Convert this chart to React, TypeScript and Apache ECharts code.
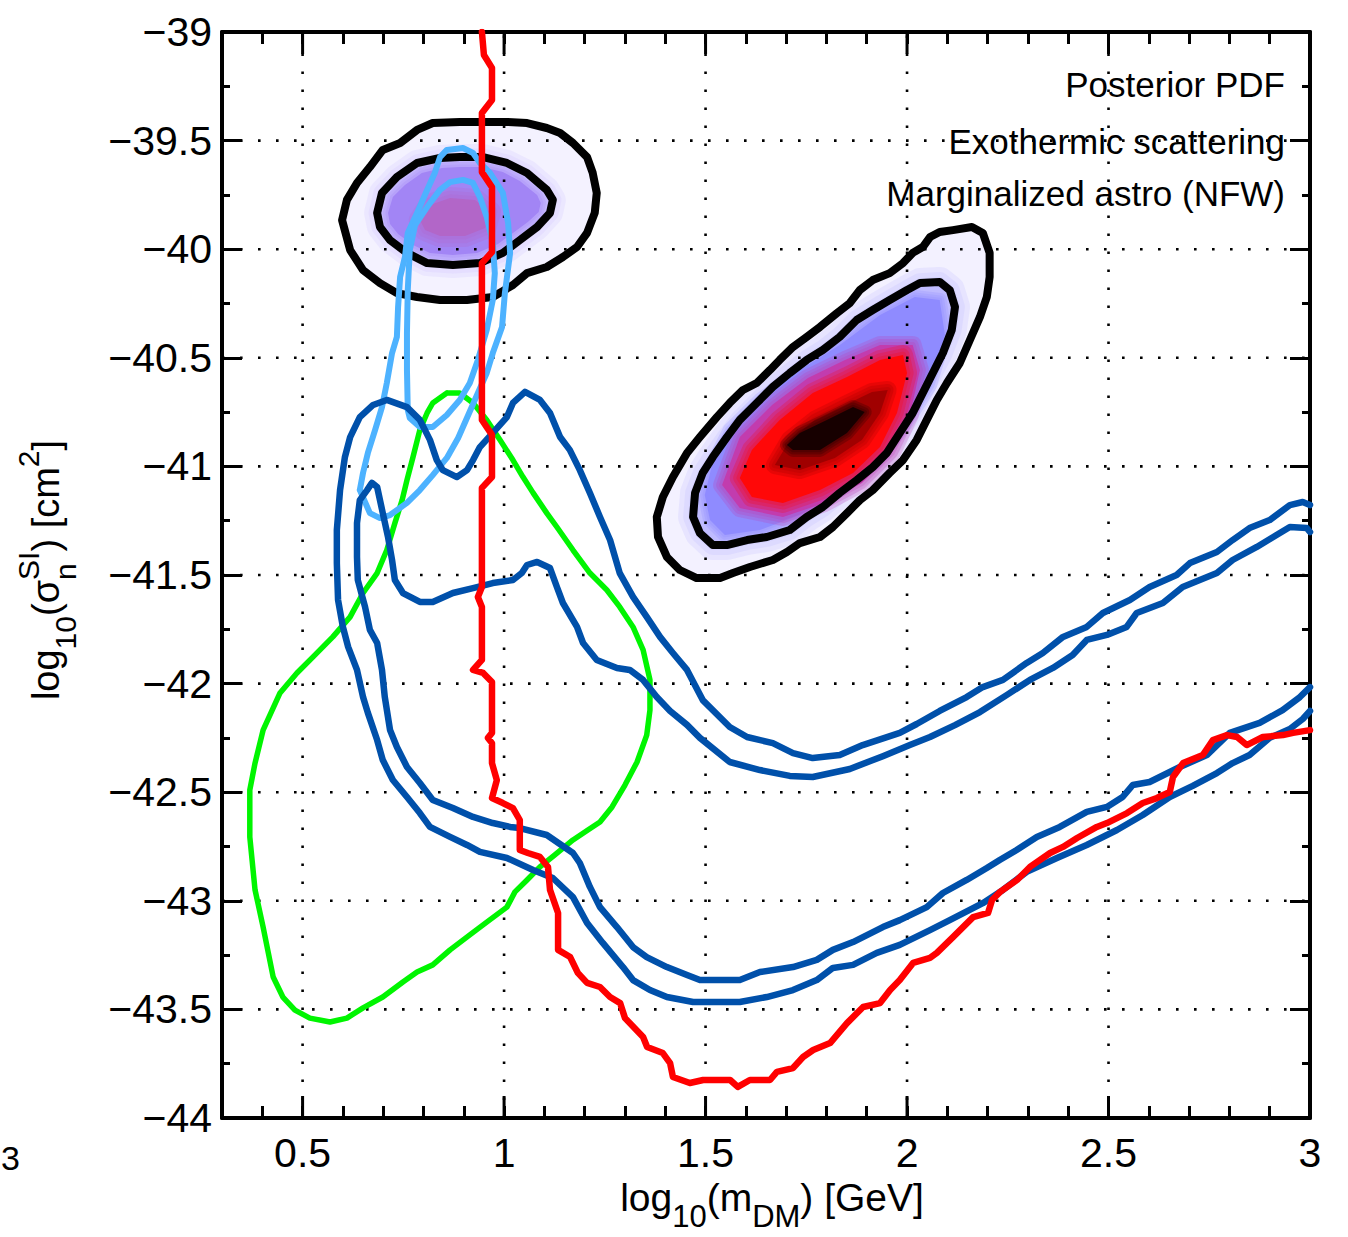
import { useEffect, useRef } from 'react';
import * as echarts from 'echarts';

const FONT = '"Liberation Sans", Arial, Helvetica, sans-serif';

const X_MIN = 0.3;
const X_MAX = 3;
const Y_MIN = -44;
const Y_MAX = -39;
const X_LABEL_VALUES = [0.5, 1, 1.5, 2, 2.5, 3];
const GRID_X = [0.5, 1, 1.5, 2, 2.5];
const GRID_Y = [-39.5, -40, -40.5, -41, -41.5, -42, -42.5, -43, -43.5];
const ANNOTATIONS = ['Posterior PDF', 'Exothermic scattering', 'Marginalized astro (NFW)'];

// Red exclusion limit
const RED_LIMIT = [
  [0.945, -39.0], [0.95, -39.106], [0.97, -39.166], [0.97, -39.313], [0.945, -39.373], [0.945, -39.645],
  [0.97, -39.714], [0.97, -40.013], [0.945, -40.064], [0.945, -40.786], [0.97, -40.855], [0.97, -41.049],
  [0.945, -41.099], [0.945, -41.555], [0.935, -41.601], [0.945, -41.647], [0.945, -41.891], [0.923, -41.937],
  [0.948, -41.951], [0.97, -41.993], [0.97, -42.227], [0.96, -42.25], [0.97, -42.274], [0.97, -42.366],
  [0.982, -42.444], [0.97, -42.527], [0.997, -42.55], [1.022, -42.573], [1.039, -42.628], [1.039, -42.766],
  [1.059, -42.78], [1.089, -42.798], [1.109, -42.844], [1.114, -42.95], [1.134, -43.056], [1.134, -43.226],
  [1.164, -43.259], [1.183, -43.332], [1.206, -43.378], [1.238, -43.397], [1.263, -43.443], [1.288, -43.471],
  [1.3, -43.54], [1.345, -43.627], [1.355, -43.673], [1.394, -43.701], [1.412, -43.747], [1.419, -43.811],
  [1.461, -43.839], [1.494, -43.825], [1.561, -43.825], [1.58, -43.857], [1.61, -43.825], [1.66, -43.825],
  [1.677, -43.788], [1.717, -43.77], [1.742, -43.719], [1.767, -43.687], [1.809, -43.655], [1.851, -43.563],
  [1.891, -43.489], [1.933, -43.471], [1.958, -43.411], [1.982, -43.365], [2.015, -43.286], [2.057, -43.263],
  [2.074, -43.24], [2.114, -43.167], [2.164, -43.075], [2.201, -43.056], [2.211, -42.996], [2.231, -42.959],
  [2.273, -42.904], [2.305, -42.844], [2.355, -42.78], [2.387, -42.752], [2.422, -42.711], [2.471, -42.66],
  [2.496, -42.642], [2.546, -42.596], [2.585, -42.55], [2.62, -42.527], [2.652, -42.499], [2.66, -42.43],
  [2.685, -42.366], [2.734, -42.329], [2.759, -42.26], [2.794, -42.237], [2.819, -42.246], [2.843, -42.283],
  [2.883, -42.246], [2.933, -42.237], [2.958, -42.227], [3.0, -42.214],
];

// Dark blue, outer contour (open at the right edge)
const BLUE_OUTER = [
  [3.0, -41.178], [2.982, -41.164], [2.95, -41.178], [2.9, -41.247], [2.85, -41.284], [2.808, -41.339],
  [2.769, -41.394], [2.702, -41.445], [2.669, -41.5], [2.602, -41.555], [2.553, -41.615], [2.486, -41.675],
  [2.446, -41.739], [2.387, -41.785], [2.337, -41.859], [2.297, -41.905], [2.238, -41.983], [2.188, -42.016],
  [2.148, -42.062], [2.081, -42.126], [2.024, -42.186], [1.982, -42.227], [1.89, -42.283], [1.833, -42.329],
  [1.766, -42.343], [1.717, -42.32], [1.667, -42.274], [1.603, -42.246], [1.56, -42.2], [1.493, -42.076],
  [1.454, -41.937], [1.419, -41.859], [1.387, -41.785], [1.354, -41.693], [1.32, -41.601], [1.287, -41.491],
  [1.263, -41.339], [1.238, -41.233], [1.213, -41.122], [1.188, -41.017], [1.163, -40.924], [1.139, -40.865],
  [1.114, -40.754], [1.089, -40.694], [1.052, -40.657], [1.022, -40.708], [1.007, -40.773], [0.972, -40.846],
  [0.94, -40.911], [0.923, -40.971], [0.908, -41.017], [0.883, -41.049], [0.848, -41.017], [0.833, -40.971],
  [0.816, -40.878], [0.791, -40.786], [0.759, -40.727], [0.709, -40.694], [0.675, -40.717], [0.642, -40.773],
  [0.618, -40.865], [0.605, -40.957], [0.593, -41.109], [0.585, -41.293], [0.585, -41.445], [0.588, -41.615],
  [0.6, -41.739], [0.613, -41.831], [0.635, -41.937], [0.65, -42.062], [0.662, -42.135], [0.685, -42.26],
  [0.699, -42.352], [0.724, -42.444], [0.759, -42.522], [0.791, -42.596], [0.816, -42.66], [0.866, -42.706],
  [0.908, -42.743], [0.94, -42.775], [1.007, -42.803], [1.072, -42.858], [1.121, -42.895], [1.171, -42.983],
  [1.206, -43.102], [1.245, -43.194], [1.295, -43.305], [1.32, -43.365], [1.362, -43.411], [1.404, -43.443],
  [1.469, -43.466], [1.585, -43.466], [1.652, -43.443], [1.717, -43.411], [1.776, -43.365], [1.816, -43.309],
  [1.866, -43.295], [1.925, -43.24], [1.982, -43.203], [2.057, -43.135], [2.106, -43.089], [2.188, -43.011],
  [2.238, -42.95], [2.297, -42.867], [2.372, -42.803], [2.446, -42.743], [2.521, -42.674], [2.585, -42.605],
  [2.652, -42.522], [2.709, -42.471], [2.769, -42.412], [2.808, -42.366], [2.85, -42.329], [2.9, -42.25],
  [2.95, -42.209], [2.982, -42.163], [3.0, -42.126],
];

// Dark blue, inner contour (open at the right edge)
const BLUE_INNER = [
  [3.0, -41.302], [2.992, -41.284], [2.95, -41.279], [2.917, -41.316], [2.868, -41.371], [2.808, -41.431],
  [2.769, -41.491], [2.684, -41.555], [2.635, -41.629], [2.57, -41.675], [2.545, -41.739], [2.496, -41.776],
  [2.446, -41.799], [2.411, -41.868], [2.362, -41.928], [2.305, -41.983], [2.248, -42.052], [2.181, -42.131],
  [2.119, -42.191], [2.057, -42.246], [2.007, -42.283], [1.94, -42.334], [1.858, -42.393], [1.766, -42.43],
  [1.709, -42.425], [1.635, -42.398], [1.56, -42.361], [1.486, -42.25], [1.454, -42.19], [1.412, -42.126],
  [1.379, -42.062], [1.345, -41.983], [1.312, -41.937], [1.28, -41.928], [1.23, -41.891], [1.196, -41.813],
  [1.181, -41.739], [1.146, -41.629], [1.131, -41.555], [1.114, -41.468], [1.082, -41.44], [1.057, -41.454],
  [1.044, -41.491], [1.022, -41.523], [0.972, -41.537], [0.923, -41.56], [0.873, -41.583], [0.823, -41.624],
  [0.791, -41.624], [0.749, -41.583], [0.729, -41.523], [0.722, -41.431], [0.712, -41.325], [0.699, -41.215],
  [0.685, -41.095], [0.672, -41.076], [0.66, -41.109], [0.642, -41.155], [0.635, -41.261], [0.635, -41.417],
  [0.637, -41.523], [0.655, -41.647], [0.667, -41.753], [0.685, -41.813], [0.697, -41.937], [0.704, -42.062],
  [0.717, -42.214], [0.734, -42.292], [0.759, -42.384], [0.791, -42.458], [0.823, -42.536], [0.873, -42.573],
  [0.923, -42.614], [0.972, -42.642], [1.015, -42.66], [1.039, -42.665], [1.106, -42.697], [1.171, -42.78],
  [1.188, -42.826], [1.213, -42.936], [1.238, -43.029], [1.28, -43.121], [1.32, -43.213], [1.354, -43.259],
  [1.404, -43.305], [1.454, -43.342], [1.486, -43.365], [1.585, -43.365], [1.635, -43.328], [1.717, -43.305],
  [1.776, -43.272], [1.816, -43.226], [1.866, -43.19], [1.94, -43.121], [1.982, -43.089], [2.049, -43.029],
  [2.089, -42.964], [2.148, -42.904], [2.198, -42.849], [2.23, -42.812], [2.272, -42.766], [2.322, -42.706],
  [2.379, -42.66], [2.446, -42.591], [2.496, -42.568], [2.535, -42.522], [2.56, -42.467], [2.602, -42.453],
  [2.677, -42.384], [2.744, -42.329], [2.801, -42.227], [2.875, -42.181], [2.932, -42.122], [2.975, -42.062],
  [3.0, -42.016],
];

// Light blue contours (closed)
const LIGHTBLUE_OUTER = [
  [0.642, -41.109], [0.667, -41.215], [0.692, -41.238], [0.717, -41.224], [0.759, -41.168], [0.791, -41.109],
  [0.823, -41.04], [0.858, -40.961], [0.886, -40.869], [0.91, -40.768], [0.935, -40.662], [0.957, -40.57],
  [0.972, -40.478], [0.995, -40.358], [1.002, -40.202], [1.015, -40.017], [1.01, -39.879], [0.997, -39.741],
  [0.965, -39.649], [0.94, -39.603], [0.923, -39.557], [0.898, -39.534], [0.858, -39.543], [0.841, -39.576],
  [0.828, -39.649], [0.809, -39.727], [0.784, -39.833], [0.761, -39.925], [0.754, -40.036], [0.742, -40.128],
  [0.737, -40.266], [0.734, -40.404], [0.722, -40.478], [0.709, -40.616], [0.697, -40.727], [0.68, -40.832],
  [0.662, -40.938], [0.65, -41.03],
];
const LIGHTBLUE_INNER = [
  [0.761, -40.74], [0.759, -40.556], [0.759, -40.386], [0.761, -40.188], [0.766, -40.004], [0.779, -39.889],
  [0.809, -39.806], [0.841, -39.727], [0.866, -39.691], [0.898, -39.681], [0.923, -39.695], [0.94, -39.76],
  [0.957, -39.852], [0.972, -39.971], [0.977, -40.11], [0.972, -40.234], [0.957, -40.372], [0.935, -40.51],
  [0.915, -40.616], [0.89, -40.694], [0.858, -40.763], [0.823, -40.819], [0.791, -40.819], [0.766, -40.777],
];

// Green contour (closed)
const GREEN = [
  [0.858, -40.662], [0.89, -40.662], [0.923, -40.708], [0.957, -40.786], [0.99, -40.878], [1.022, -40.971],
  [1.047, -41.049], [1.072, -41.122], [1.106, -41.215], [1.131, -41.279], [1.171, -41.385], [1.213, -41.491],
  [1.255, -41.569], [1.287, -41.647], [1.32, -41.739], [1.345, -41.845], [1.362, -41.983], [1.362, -42.122],
  [1.354, -42.237], [1.33, -42.361], [1.3, -42.467], [1.268, -42.568], [1.238, -42.637], [1.208, -42.674],
  [1.171, -42.72], [1.126, -42.789], [1.089, -42.844], [1.057, -42.904], [1.027, -42.959], [1.007, -43.029],
  [0.957, -43.098], [0.915, -43.157], [0.866, -43.226], [0.823, -43.295], [0.784, -43.328], [0.749, -43.374],
  [0.699, -43.443], [0.65, -43.493], [0.61, -43.54], [0.568, -43.558], [0.518, -43.54], [0.481, -43.503],
  [0.451, -43.443], [0.427, -43.351], [0.402, -43.121], [0.382, -42.95], [0.369, -42.706], [0.369, -42.49],
  [0.382, -42.366], [0.402, -42.214], [0.444, -42.043], [0.486, -41.951], [0.526, -41.877], [0.575, -41.785],
  [0.618, -41.693], [0.65, -41.583], [0.685, -41.491], [0.709, -41.385], [0.729, -41.261], [0.747, -41.155],
  [0.759, -41.063], [0.774, -40.957], [0.791, -40.832], [0.809, -40.754], [0.823, -40.708],
];

// Posterior PDF, right blob: contours and density levels
const RIGHT_PDF_OUTER = [
  [2.161, -39.898], [2.188, -39.925], [2.205, -40.017], [2.205, -40.128], [2.198, -40.22], [2.181, -40.312],
  [2.156, -40.418], [2.131, -40.524], [2.099, -40.616], [2.074, -40.694], [2.049, -40.786], [2.024, -40.878],
  [1.99, -40.971], [1.957, -41.03], [1.915, -41.109], [1.883, -41.155], [1.851, -41.215], [1.816, -41.279],
  [1.784, -41.325], [1.734, -41.353], [1.702, -41.394], [1.667, -41.431], [1.61, -41.463], [1.568, -41.491],
  [1.536, -41.514], [1.478, -41.514], [1.436, -41.477], [1.404, -41.417], [1.382, -41.325], [1.379, -41.233],
  [1.394, -41.141], [1.419, -41.049], [1.454, -40.938], [1.486, -40.865], [1.528, -40.773], [1.56, -40.708],
  [1.593, -40.648], [1.627, -40.616], [1.66, -40.556], [1.684, -40.51], [1.717, -40.45], [1.751, -40.404],
  [1.784, -40.358], [1.826, -40.294], [1.858, -40.248], [1.883, -40.188], [1.915, -40.142], [1.957, -40.11],
  [1.99, -40.064], [2.014, -40.017], [2.039, -39.99], [2.057, -39.944], [2.081, -39.921], [2.114, -39.912],
];
const RIGHT_PDF_INNER = [
  [2.081, -40.151], [2.106, -40.188], [2.119, -40.266], [2.111, -40.372], [2.089, -40.478], [2.064, -40.57],
  [2.039, -40.662], [2.014, -40.754], [1.982, -40.846], [1.95, -40.938], [1.915, -41.003], [1.875, -41.063],
  [1.833, -41.122], [1.791, -41.187], [1.751, -41.233], [1.709, -41.293], [1.652, -41.325], [1.603, -41.339],
  [1.553, -41.362], [1.518, -41.362], [1.486, -41.307], [1.469, -41.233], [1.474, -41.122], [1.493, -41.03],
  [1.518, -40.957], [1.553, -40.865], [1.585, -40.786], [1.627, -40.708], [1.667, -40.634], [1.709, -40.57],
  [1.751, -40.51], [1.791, -40.464], [1.833, -40.404], [1.875, -40.326], [1.915, -40.28], [1.957, -40.234],
  [2.0, -40.188], [2.032, -40.156],
];
const RIGHT_PDF_MID = [
  [1.511, -41.247], [1.548, -41.316], [1.635, -41.293], [1.734, -41.224], [1.833, -41.109], [1.92, -40.98],
  [1.995, -40.809], [2.057, -40.625], [2.094, -40.395], [2.081, -40.234], [2.019, -40.22], [1.933, -40.303],
  [1.833, -40.441], [1.734, -40.556], [1.635, -40.694], [1.56, -40.832], [1.516, -40.994], [1.498, -41.132],
];
const RIGHT_PDF_PURPLE = [
  [1.541, -41.086], [1.585, -41.192], [1.692, -41.233], [1.796, -41.168], [1.888, -41.076], [1.962, -40.938],
  [2.007, -40.763], [2.032, -40.556], [2.014, -40.441], [1.933, -40.441], [1.846, -40.51], [1.754, -40.593],
  [1.665, -40.717], [1.585, -40.865],
];
const RIGHT_PDF_RED = [
  [1.585, -41.053], [1.615, -41.141], [1.692, -41.168], [1.784, -41.109], [1.866, -41.03], [1.933, -40.911],
  [1.975, -40.754], [2.0, -40.57], [1.99, -40.487], [1.933, -40.51], [1.851, -40.588], [1.766, -40.662],
  [1.684, -40.786], [1.615, -40.924],
];
const RIGHT_PDF_DARK = [
  [1.672, -40.994], [1.734, -41.017], [1.821, -40.961], [1.888, -40.878], [1.933, -40.754], [1.952, -40.648],
  [1.913, -40.657], [1.846, -40.717], [1.771, -40.786], [1.709, -40.878],
];
const RIGHT_PDF_CORE = [
  [1.717, -40.924], [1.784, -40.924], [1.851, -40.846], [1.895, -40.75], [1.866, -40.727], [1.801, -40.786],
  [1.734, -40.846], [1.702, -40.901],
];

// Posterior PDF, left blob
const LEFT_PDF_OUTER = [
  [0.598, -39.866], [0.61, -39.773], [0.635, -39.695], [0.667, -39.622], [0.699, -39.543], [0.742, -39.511],
  [0.784, -39.451], [0.823, -39.419], [0.89, -39.414], [0.957, -39.414], [1.007, -39.414], [1.057, -39.419],
  [1.106, -39.442], [1.139, -39.465], [1.171, -39.511], [1.206, -39.576], [1.22, -39.649], [1.23, -39.741],
  [1.225, -39.833], [1.206, -39.925], [1.181, -39.99], [1.146, -40.036], [1.106, -40.082], [1.057, -40.11],
  [1.022, -40.165], [0.972, -40.22], [0.908, -40.234], [0.841, -40.234], [0.784, -40.22], [0.734, -40.202],
  [0.692, -40.156], [0.65, -40.096], [0.618, -40.004],
];
const LEFT_PDF_INNER = [
  [0.685, -39.833], [0.697, -39.741], [0.734, -39.668], [0.784, -39.603], [0.841, -39.58], [0.89, -39.576],
  [0.948, -39.576], [1.007, -39.603], [1.057, -39.649], [1.106, -39.727], [1.121, -39.773], [1.114, -39.833],
  [1.082, -39.898], [1.039, -39.958], [0.997, -40.017], [0.94, -40.064], [0.873, -40.073], [0.809, -40.064],
  [0.759, -40.017], [0.717, -39.958], [0.692, -39.898],
];
const LEFT_PDF_MID = [
  [0.712, -39.833], [0.724, -39.76], [0.754, -39.704], [0.796, -39.649], [0.846, -39.626], [0.89, -39.622],
  [0.945, -39.622], [0.997, -39.645], [1.039, -39.686], [1.082, -39.75], [1.091, -39.787], [1.086, -39.829],
  [1.059, -39.875], [1.022, -39.925], [0.985, -39.976], [0.933, -40.017], [0.873, -40.027], [0.816, -40.017],
  [0.774, -39.981], [0.737, -39.93], [0.717, -39.884],
];
const LEFT_PDF_CORE = [
  [0.791, -39.866], [0.816, -39.796], [0.866, -39.764], [0.928, -39.773], [0.965, -39.829], [0.953, -39.902],
  [0.903, -39.939], [0.841, -39.939], [0.804, -39.912],
];

const close = (a: number[][]) => [...a, a[0]];

type Level = { pts: number[][]; fill?: string; halo?: number; stroke?: string };

const RIGHT_LEVELS: Level[] = [
  { pts: RIGHT_PDF_OUTER, fill: '#f3f1ff' },
  { pts: RIGHT_PDF_INNER, fill: '#bfbbff', halo: 30 },
  { pts: RIGHT_PDF_MID, fill: '#8f8bff', halo: 14 },
  { pts: RIGHT_PDF_PURPLE, fill: '#c23cae', halo: 18 },
  { pts: RIGHT_PDF_RED, fill: '#ff0808', halo: 20 },
  { pts: RIGHT_PDF_DARK, fill: '#a00000', halo: 18 },
  { pts: RIGHT_PDF_CORE, fill: '#170000', halo: 14 },
  { pts: RIGHT_PDF_OUTER, stroke: '#000000' },
  { pts: RIGHT_PDF_INNER, stroke: '#000000' },
];
const LEFT_LEVELS: Level[] = [
  { pts: LEFT_PDF_OUTER, fill: '#f4f2ff' },
  { pts: LEFT_PDF_INNER, fill: '#cfc5ff', halo: 26 },
  { pts: LEFT_PDF_MID, fill: '#a285f5', halo: 16 },
  { pts: LEFT_PDF_CORE, fill: '#b266c8', halo: 22 },
  { pts: LEFT_PDF_OUTER, stroke: '#000000' },
  { pts: LEFT_PDF_INNER, stroke: '#000000' },
];

type Frag = { t: string; s: number; dy: number; hold?: boolean };
const X_TITLE: Frag[] = [
  { t: 'log', s: 39, dy: 0 }, { t: '10', s: 31, dy: 19 }, { t: '(m', s: 39, dy: 0 },
  { t: 'DM', s: 31, dy: 19 }, { t: ') [GeV]', s: 39, dy: 0 },
];
const Y_TITLE: Frag[] = [
  { t: 'log', s: 38, dy: 0 }, { t: '10', s: 30, dy: 19 }, { t: '(\u03c3', s: 38, dy: 0 },
  { t: 'n', s: 30, dy: 19, hold: true }, { t: 'SI', s: 30, dy: -18 }, { t: ') [cm', s: 38, dy: 0 },
  { t: '2', s: 30, dy: -18 }, { t: ']', s: 38, dy: 0 },
];

function blobSeries(name: string, levels: Level[]) {
  return {
    type: 'custom',
    name,
    silent: true,
    clip: true,
    data: levels.map((l) => l.pts[0]),
    renderItem: (params: any, api: any) => {
      const l = levels[params.dataIndex];
      const points = l.pts.map((p) => api.coord(p));
      if (l.stroke) {
        return {
          type: 'polygon',
          shape: { points },
          style: { fill: 'none', stroke: l.stroke, lineWidth: 8, lineJoin: 'round' },
        };
      }
      const children: any[] = [];
      if (l.halo) {
        [1, 0.66, 0.33].forEach((k) => {
          children.push({
            type: 'polygon',
            shape: { points },
            style: { fill: 'none', stroke: l.fill, lineWidth: l.halo! * k, lineJoin: 'round', opacity: 0.24 },
          });
        });
      }
      children.push({ type: 'polygon', shape: { points }, style: { fill: l.fill } });
      return { type: 'group', children };
    },
  };
}

function lineSeries(name: string, data: number[][], color: string, width: number) {
  return {
    type: 'line',
    name,
    data,
    symbol: 'none',
    showSymbol: false,
    smooth: false,
    silent: true,
    clip: true,
    lineStyle: { color, width, cap: 'round', join: 'round' },
  };
}

export default function App() {
  const ref = useRef<HTMLDivElement>(null);

  useEffect(() => {
    const el = ref.current!;
    const chart = echarts.init(el, null, { renderer: 'svg' });

    const canvas = document.createElement('canvas');
    const ctx = canvas.getContext('2d')!;
    const measure = (t: string, s: number) => {
      ctx.font = `${s}px "Liberation Sans"`;
      return ctx.measureText(t).width;
    };
    const buildTitle = (frags: Frag[], cx: number, cy: number, rotation: number) => {
      let x = 0;
      let held = 0;
      const items: any[] = [];
      for (const f of frags) {
        const w = measure(f.t, f.s);
        items.push({ ...f, x });
        if (f.hold) {
          held = Math.max(held, w);
          continue;
        }
        x += Math.max(w, held);
        held = 0;
      }
      const width = x;
      return {
        type: 'group',
        x: cx,
        y: cy,
        rotation,
        silent: true,
        children: items.map((it) => ({
          type: 'text',
          x: it.x - width / 2,
          y: it.dy,
          style: {
            text: it.t,
            fontSize: it.s,
            fontFamily: FONT,
            fill: '#000',
            align: 'left',
            verticalAlign: 'middle',
            textAlign: 'left',
            textVerticalAlign: 'middle',
          },
        })),
      };
    };

    const axisCommon = {
      axisLine: { show: true, onZero: false, lineStyle: { color: '#000', width: 4 } },
      splitLine: { show: false },
    };

    const xFormatter = (v: number) => {
      const r = Math.round(v * 10) / 10;
      return X_LABEL_VALUES.some((q) => Math.abs(q - r) < 1e-6) && Math.abs(v - r) < 1e-6 ? String(r) : '';
    };
    const yFormatter = (v: number) => (v < 0 ? '\u2212' : '') + String(Math.abs(v));

    const xAxisBase = {
      type: 'value',
      min: X_MIN,
      max: X_MAX,
      interval: 0.1,
      ...axisCommon,
      axisTick: { show: true, inside: true, length: 12, lineStyle: { color: '#000', width: 3 } },
    };
    const yAxisBase = {
      type: 'value',
      min: Y_MIN,
      max: Y_MAX,
      interval: 0.5,
      ...axisCommon,
      axisTick: { show: true, inside: true, length: 20, lineStyle: { color: '#000', width: 3 } },
      minorTick: { show: true, splitNumber: 2, length: 8, lineStyle: { color: '#000', width: 3 } },
    };

    const option: any = {
      animation: false,
      backgroundColor: '#ffffff',
      grid: { left: 222, right: 38, top: 32, bottom: 119, containLabel: false },
      xAxis: [
        {
          ...xAxisBase,
          position: 'bottom',
          axisLabel: { show: true, formatter: xFormatter, fontSize: 41, fontFamily: FONT, color: '#000', margin: 14 },
        },
        { ...xAxisBase, position: 'top', axisLabel: { show: false } },
      ],
      yAxis: [
        {
          ...yAxisBase,
          position: 'left',
          axisLabel: { show: true, formatter: yFormatter, fontSize: 41, fontFamily: FONT, color: '#000', margin: 10 },
        },
        { ...yAxisBase, position: 'right', axisLabel: { show: false } },
      ],
      series: [
        blobSeries('Left PDF', LEFT_LEVELS),
        blobSeries('Right PDF', RIGHT_LEVELS),
        {
          type: 'custom',
          name: 'grid x',
          silent: true,
          data: GRID_X.map((v) => [v, Y_MIN]),
          renderItem: (params: any, api: any) => {
            const v = api.value(0);
            const p1 = api.coord([v, Y_MIN]);
            const p2 = api.coord([v, Y_MAX]);
            return {
              type: 'line',
              shape: { x1: p1[0], y1: p1[1], x2: p2[0], y2: p2[1] },
              style: { stroke: '#000', lineWidth: 2.6, lineDash: [2.6, 15.4] },
            };
          },
        },
        {
          type: 'custom',
          name: 'grid y',
          silent: true,
          data: GRID_Y.map((v) => [X_MIN, v]),
          renderItem: (params: any, api: any) => {
            const v = api.value(1);
            const p1 = api.coord([X_MIN, v]);
            const p2 = api.coord([X_MAX, v]);
            return {
              type: 'line',
              shape: { x1: p1[0], y1: p1[1], x2: p2[0], y2: p2[1] },
              style: { stroke: '#000', lineWidth: 2.6, lineDash: [2.6, 15.4] },
            };
          },
        },
        lineSeries('Green', close(GREEN), '#00f500', 5.5),
        lineSeries('Light blue outer', close(LIGHTBLUE_OUTER), '#4db2ff', 6),
        lineSeries('Light blue inner', close(LIGHTBLUE_INNER), '#4db2ff', 6),
        lineSeries('Blue outer', BLUE_OUTER, '#0050aa', 6.5),
        lineSeries('Blue inner', BLUE_INNER, '#0050aa', 6.5),
        lineSeries('Red limit', RED_LIMIT, '#ff0000', 6.5),
        {
          type: 'custom',
          name: 'major x ticks',
          silent: true,
          clip: false,
          data: GRID_X.map((v) => [v, Y_MIN]),
          renderItem: (params: any, api: any) => {
            const v = api.value(0);
            const b = api.coord([v, Y_MIN]);
            const t = api.coord([v, Y_MAX]);
            return {
              type: 'group',
              children: [
                { type: 'line', shape: { x1: b[0], y1: b[1], x2: b[0], y2: b[1] - 22 }, style: { stroke: '#000', lineWidth: 3 } },
                { type: 'line', shape: { x1: t[0], y1: t[1], x2: t[0], y2: t[1] + 22 }, style: { stroke: '#000', lineWidth: 3 } },
              ],
            };
          },
        },
      ],
      graphic: [
        ...ANNOTATIONS.map((t, i) => ({
          type: 'text',
          right: 63,
          top: [67, 124, 176][i],
          silent: true,
          style: {
            text: t,
            fontSize: 35,
            fontFamily: FONT,
            fill: '#000',
          },
        })),
        buildTitle(X_TITLE, 772, 1197, 0),
        buildTitle(Y_TITLE, 46, 570, Math.PI / 2),
        {
          type: 'text',
          x: 1,
          y: 1158,
          silent: true,
          style: {
            text: '3',
            fontSize: 34,
            fontFamily: FONT,
            fill: '#000',
            align: 'left',
            verticalAlign: 'middle',
            textAlign: 'left',
            textVerticalAlign: 'middle',
          },
        },
      ],
    };

    chart.setOption(option);
    return () => chart.dispose();
  }, []);

  return (
    <div
      ref={ref}
      style={{ position: 'absolute', left: 0, top: 0, width: 1348, height: 1237, background: '#ffffff' }}
    />
  );
}
